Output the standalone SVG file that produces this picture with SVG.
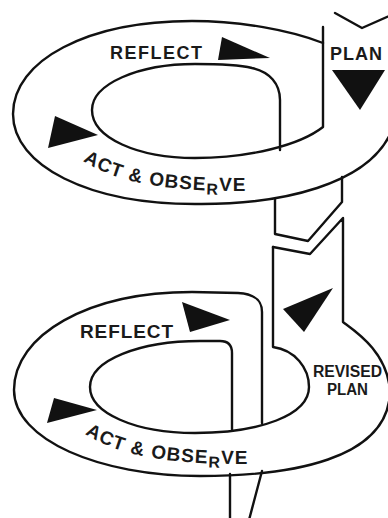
<svg xmlns="http://www.w3.org/2000/svg" width="388" height="518" viewBox="0 0 388 518">
<defs>
<style>
.ln{fill:none;stroke:#111;stroke-width:2.4;stroke-linejoin:round;stroke-linecap:round}
.ar{fill:#111}
.lb{font-family:"Liberation Sans","Arial",sans-serif;font-weight:bold;fill:#1a1a1a}
.nr{font-family:"Liberation Sans Narrow","Liberation Sans",sans-serif;font-weight:bold;fill:#1a1a1a}
</style>
<path id="p1" d="M83,161 C115,181 160,192 252,191"/>
<path id="p2" d="M85,434 C117,454 162,465 254,464"/>
</defs>
<rect width="388" height="518" fill="#fff"/>
<g id="cycle-1">
<path class="ln" d="M323,43 C290,30 240,21 192,21 C88,21 13,60 13,114 C13,166 89,204 195,204 C280,205 370,185 392,130 L400,105"/>
<path class="ln" d="M323,27 V127 C300,145 250,158 195,158 C138,158 92,138 92,110 C92,84 138,64 195,64 C225,64 240,65 252,68 C270,72 280,84 280,100 V150"/>
<path class="ln" d="M335,13 L362,28 L396,13"/>
<text class="lb" x="110" y="59" font-size="18" textLength="92">REFLECT</text>
<text class="lb" x="330" y="59.5" font-size="18" textLength="52">PLAN</text>
<text class="lb" font-size="19" letter-spacing="1.1"><textPath href="#p1">ACT &amp; OBSE<tspan font-size="16" dy="4">R</tspan><tspan dy="-4">VE</tspan></textPath></text>
</g>
<g id="connectors">
<path class="ln" d="M275,199 V234 L308,241 L342,202 V177"/>
<path class="ln" d="M230,474 V520"/>
<path class="ln" d="M262,471 L249,520"/>
</g>
<g id="cycle-2">
<path class="ln" d="M273,247 L310,254 L343,218 V322 C355,331 388,352 390,392 C388,460 290,476 200,476 C100,476 14,440 14,390 C14,335 88,292 192,292 L238,293 C255,294 262,300 262,312 V423"/>
<path class="ln" d="M273,247 V347 C295,350 309,368 309,387 C309,415 260,433 195,433 C135,433 90,413 90,387 C90,360 140,341 200,341 L220,341 C228,341 232,345 232,353 V430"/>
<text class="lb" x="80" y="338" font-size="19" textLength="93">REFLECT</text>
<text class="nr" x="347.5" y="376.5" font-size="16" text-anchor="middle" textLength="69" lengthAdjust="spacingAndGlyphs">REVISED</text>
<text class="nr" x="347.5" y="394.5" font-size="16" text-anchor="middle" textLength="41" lengthAdjust="spacingAndGlyphs">PLAN</text>
<text class="lb" font-size="19" letter-spacing="1.1"><textPath href="#p2">ACT &amp; OBSE<tspan font-size="16" dy="4">R</tspan><tspan dy="-4">VE</tspan></textPath></text>
</g>
<g id="arrows">
<polygon class="ar" points="222,37 270,58 218,60"/>
<polygon class="ar" points="55,116 98,135 48,148"/>
<polygon class="ar" points="332,70 385,70 360,110"/>
<polygon class="ar" points="182,302 230,320 190,332"/>
<polygon class="ar" points="54,398 97,410 47,423"/>
<polygon class="ar" points="283,309 333,288 304,332"/>
</g>
</svg>
